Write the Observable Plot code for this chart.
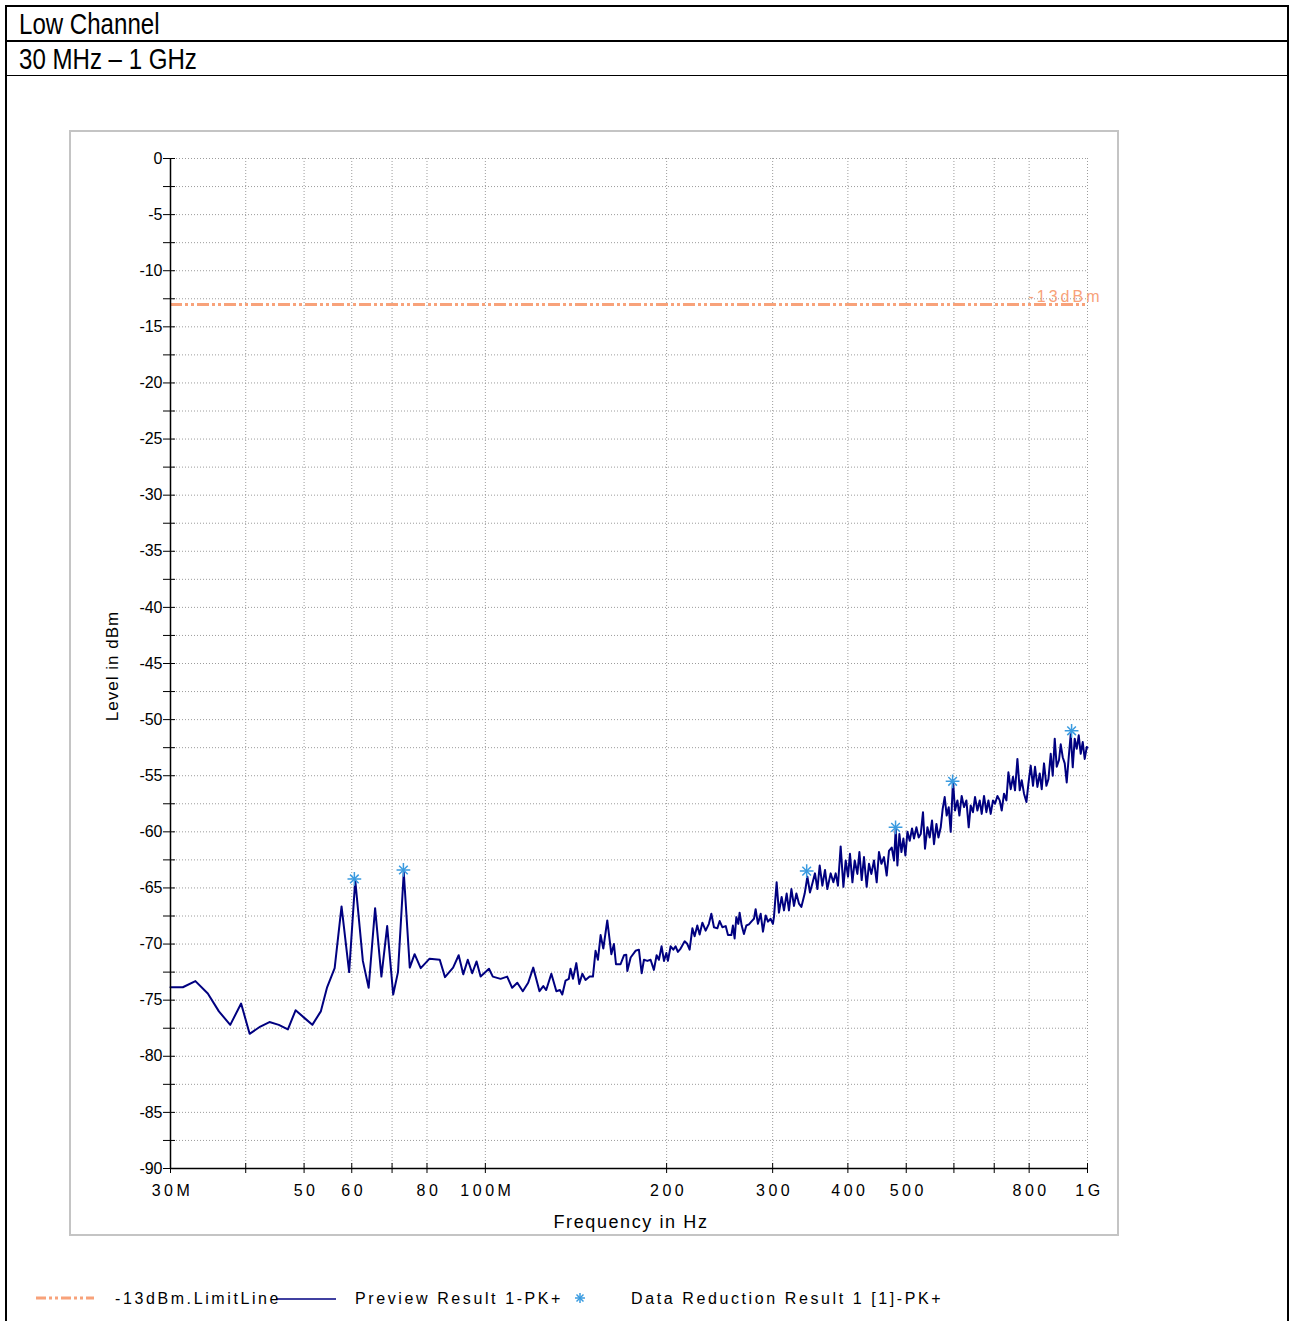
<!DOCTYPE html>
<html><head><meta charset="utf-8">
<script src="https://cdn.jsdelivr.net/npm/d3@7"></script>
<script src="https://cdn.jsdelivr.net/npm/@observablehq/plot@0.6"></script>
<style>
html,body{margin:0;padding:0;background:#fff;overflow:hidden;}
#page{position:relative;width:1291px;height:1321px;font-family:"Liberation Sans",Arial,sans-serif;color:#000;}
.abs{position:absolute;}
.frame{left:5px;top:5px;width:1284px;height:1340px;border:2px solid #000;box-sizing:border-box;}
.hline{left:5px;width:1284px;background:#000;}
.title{left:19px;font-family:"Liberation Sans",Arial,sans-serif;font-size:29px;line-height:1;white-space:nowrap;transform:scaleX(0.83);transform-origin:0 0;}
.panel{left:69px;top:130px;width:1050px;height:1106px;border:2px solid #c4c4c4;box-sizing:border-box;background:#fff;}
#chart{left:0;top:0;}
.axlab{font-size:18px;white-space:nowrap;line-height:1;}
.leg{font-size:16px;letter-spacing:2.6px;line-height:16px;top:1291px;white-space:nowrap;}
</style></head>
<body>
<div id="page">
  <div class="abs frame"></div>
  <div class="abs hline" style="top:40px;height:2px;"></div>
  <div class="abs hline" style="top:75px;height:1px;"></div>
  <div class="abs title" style="top:10px;">Low Channel</div>
  <div class="abs title" style="top:45px;">30 MHz – 1 GHz</div>
  <div class="abs panel"></div>
  <div class="abs" id="chart"></div>
  <div class="abs axlab" style="left:112px;top:666px;transform:translate(-50%,-50%) rotate(-90deg);font-size:17px;letter-spacing:1px;">Level in dBm</div>
  <div class="abs axlab" style="left:631px;top:1222px;transform:translate(-50%,-50%);letter-spacing:1.6px;">Frequency in Hz</div>
  <svg class="abs" style="left:0;top:1280px;" width="1291" height="40">
    <line x1="36" x2="94" y1="18" y2="18" stroke="#f8a27a" stroke-width="3" stroke-dasharray="10,3,3,3,3,3"/>
    <line x1="276" x2="336" y1="19" y2="19" stroke="#000080" stroke-width="1.5"/>
    <g stroke="#3a9be0" stroke-width="1.5">
      <line x1="575" x2="585" y1="18" y2="18"/><line x1="580" x2="580" y1="13" y2="23"/>
      <line x1="576.5" x2="583.5" y1="14.5" y2="21.5"/><line x1="576.5" x2="583.5" y1="21.5" y2="14.5"/>
    </g>
  </svg>
  <div class="abs leg" style="left:115px;">-13dBm.LimitLine</div>
  <div class="abs leg" style="left:355px;">Preview Result 1-PK+</div>
  <div class="abs leg" style="left:631px;">Data Reduction Result 1 [1]-PK+</div>
</div>
<script>
// Frequency in MHz, level in dBm (Preview Result 1-PK+)
const freqMHz = [30,31.45,33.0,34.6,36.1,37.7,39.3,40.6,42.3,43.8,45.4,47.0,48.4,50.1,51.6,53.3,54.6,56.2,57.7,59.4,60.8,62.6,64.0,65.6,67.2,68.7,70.3,71.6,73.2,74.9,76.3,78.1,80.8,84.0,85.7,88.4,90.3,91.9,93.5,95.1,96.7,98.2,101.4,102.9,106.0,
108.7,110.8,113.0,115.4,117.8,120.1,123.0,124.8,126.2,128.7,131.2,133.0,134.2,135.9,137.6,138.5,139.8,141.6,143.2,144.9,146.7,149.0,150.9,152.4,153.8,155.4,157.0,159.4,161.9,163.5,164.8,167.7,169.9,171.4,172.1,174.3,177.6,179.9,181.8,183.4,185.8,188.1,190.5,192.5,194.2,196.2,198.0,199.8,201.0,203.1,205.2,207.0,208.8,211.0,214.3,216.5,218.4,220.7,222.6,224.9,226.9,229.3,232.2,235.1,237.3,239.7,242.8,245.0,247.5,250.7,252.9,256.2,257.7,259.4,261.1,263.1,264.4,266.5,268.8,271.3,274.0,276.5,279.3,281.1,283.6,286.6,289.1,292.1,294.7,297.7,300.3,301.5,304.6,307.3,310.5,313.3,316.5,319.3,322.3,325.5,328.5,331.8,334.8,339.1,342.6,346.0,349.2,352.7,356.0,359.1,362.8,366.5,369.8,374.5,
378.4,381.8,385.1,389.1,393.2,396.7,400.2,403.2,407.0,410.6,414.8,418.0,421.7,425.4,429.8,433.6,437.6,442.0,446.6,450.5,454.7,459.2,464.0,468.1,473.0,477.2,480.3,483.4,487.1,490.9,494.6,498.4,502.3,506.7,511.2,515.1,519.8,524.4,528.5,533.1,537.2,542.2,547.0,551.8,556.0,561.2,565.5,570.5,574.8,579.2,583.7,588.2,592.7,597.9,602.5,608.1,612.7,618.1,623.6,629.3,634.9,639.8,645.4,650.4,656.4,662.2,667.3,673.2,679.4,684.6,690.6,696.7,702.1,708.6,714.8,720.3,726.7,733.4,739.0,745.6,752.1,757.9,764.9,771.7,777.6,784.5,791.7,797.8,804.8,811.9,818.2,825.7,833.0,839.4,846.8,854.6,861.2,868.8,875.5,882.2,889.0,896.8,902.7,909.6,916.6,923.6,930.7,937.9,945.1,952.3,959.6,967.0,974.4,981.9,989.4,997.0,1000];
const levelDbm = [-73.85,-73.85,-73.3,-74.4,-76.0,-77.2,-75.3,-78.0,-77.35,-76.95,-77.2,-77.6,-75.9,-76.6,-77.2,-76.0,-73.85,-72.15,-66.65,-72.5,-64.3,-71.5,-73.9,-66.8,-72.9,-68.4,-74.5,-72.5,-63.6,-72.1,-70.9,-72.15,-71.3,-71.4,-72.95,-72.1,-71.0,-72.7,-71.4,-72.6,-71.55,-72.9,-72.2,-72.9,-73.1,
-72.9,-73.9,-73.45,-74.2,-73.45,-72.1,-74.2,-73.75,-74.1,-72.65,-74.2,-74.1,-74.5,-73.25,-73.1,-72.2,-73.1,-71.7,-73.55,-72.65,-73.2,-72.9,-72.9,-70.6,-71.4,-69.2,-70.4,-67.9,-70.9,-70.0,-71.8,-71.8,-71.0,-70.95,-72.4,-71.2,-70.6,-70.5,-72.6,-71.4,-71.5,-71.4,-72.3,-71.0,-71.4,-70.2,-71.5,-70.8,-71.5,-70.2,-70.5,-70.2,-70.7,-70.4,-69.75,-70.0,-70.5,-68.6,-69.3,-68.35,-69.15,-68.1,-68.8,-68.2,-67.3,-68.5,-68.6,-67.95,-68.5,-68.4,-69.2,-69.2,-68.35,-69.5,-67.6,-68.2,-67.2,-68.35,-69.1,-68.35,-68.25,-68.0,-67.75,-66.9,-68.2,-67.3,-68.9,-67.45,-68.0,-67.75,-68.2,-67.6,-64.5,-67.2,-65.8,-67.0,-65.5,-67.0,-65.1,-66.6,-65.5,-66.4,-66.7,-65.5,-64.0,-65.4,-64.6,-63.7,-65.1,-63.0,-64.8,-63.4,-65.1,-63.7,
-64.5,-63.7,-64.8,-61.3,-64.9,-62.55,-64.0,-61.95,-64.5,-62.55,-63.75,-61.8,-64.3,-62.25,-64.9,-62.85,-63.75,-62.55,-64.5,-61.8,-62.85,-62.25,-63.9,-61.7,-61.4,-62.55,-59.7,-63.0,-60.2,-61.8,-60.6,-62.1,-60.0,-60.8,-59.7,-60.6,-59.6,-60.5,-60.2,-58.25,-61.5,-59.6,-60.5,-59.0,-61.1,-59.3,-60.5,-59.6,-57.95,-56.9,-58.55,-57.8,-60.0,-55.4,-58.1,-57.2,-58.55,-56.8,-57.8,-57.2,-59.6,-57.65,-58.25,-56.9,-58.1,-57.2,-58.4,-56.8,-58.25,-57.2,-58.4,-57.2,-57.5,-56.8,-57.2,-58.1,-56.6,-57.2,-54.7,-56.2,-55.1,-56.3,-53.5,-56.3,-55.4,-56.6,-57.35,-55.7,-54.1,-55.9,-54.2,-56.0,-54.8,-56.2,-53.9,-55.9,-55.3,-53.05,-55.0,-51.7,-54.2,-53.6,-52.2,-53.35,-53.9,-55.6,-53.35,-51.3,-54.25,-51.7,-52.6,-51.4,-53.05,-52.0,-53.5,-52.45,-52.5];

// Data Reduction Result 1 [1]-PK+ (peaks)
const peakFreqMHz = [60.6, 73.1, 341.7, 480.0, 597.0, 941.0];
const peakLevelDbm = [-64.2, -63.4, -63.5, -59.6, -55.5, -51.0];

// Limit line
const limitDbm = -13;
const limitLabel = "-13dBm";

// Axes
const xTicks = [30,40,50,60,70,80,100,200,300,400,500,600,700,800,1000];
const xTickLabels = ["30M","","50","60","","80","100M","200","300","400","500","","","800","1G"];
const yTicks = [0,-2.5,-5,-7.5,-10,-12.5,-15,-17.5,-20,-22.5,-25,-27.5,-30,-32.5,-35,-37.5,-40,-42.5,-45,-47.5,-50,-52.5,-55,-57.5,-60,-62.5,-65,-67.5,-70,-72.5,-75,-77.5,-80,-82.5,-85,-87.5,-90];
const yTickLabels = ["0","","-5","","-10","","-15","","-20","","-25","","-30","","-35","","-40","","-45","","-50","","-55","","-60","","-65","","-70","","-75","","-80","","-85","","-90"];

const trace = freqMHz.map((f, i) => ({f, level: levelDbm[i]}));
const peaks = peakFreqMHz.map((f, i) => ({f, level: peakLevelDbm[i]}));
const xLabelRows = xTicks.map((t, i) => ({t, label: xTickLabels[i]})).filter(d => d.label !== "");
const yLab = new Map(yTicks.map((t, i) => [t, yTickLabels[i]]));

const grid = {stroke: "#9c9c9c", strokeOpacity: 1, strokeWidth: 1, strokeDasharray: "1,2"};

const chart = Plot.plot({
  width: 1291,
  height: 1240,
  marginLeft: 170,
  marginRight: 204,
  marginTop: 158,
  marginBottom: 72,
  style: {fontFamily: "Liberation Sans, Arial, sans-serif", fontSize: "16px", background: "transparent", color: "#000", overflow: "visible"},
  x: {type: "log", domain: [30, 1000], axis: null},
  y: {domain: [-90, 0], axis: null},
  marks: [
    Plot.gridY(yTicks, grid),
    Plot.gridX(xTicks, grid),
    Plot.ruleY([limitDbm], {stroke: "#f8a27a", strokeWidth: 3, strokeDasharray: "12,3,3,3,3,3"}),
    Plot.text([limitLabel], {x: () => 1000, y: () => limitDbm, text: d => d, textAnchor: "end", dx: 15, dy: -8, fill: "#f8a27a", fontSize: 16}),
    Plot.line(trace, {x: "f", y: "level", stroke: "#000080", strokeWidth: 2}),
    Plot.dot(peaks, {x: "f", y: "level", symbol: "plus", r: 4.5, stroke: "#3a9be0", strokeWidth: 1.5}),
    Plot.dot(peaks, {x: "f", y: "level", symbol: "times", r: 4, stroke: "#3a9be0", strokeWidth: 1.5}),
    Plot.ruleY([-90], {stroke: "#000", strokeWidth: 1.5}),
    Plot.ruleX([30], {stroke: "#000", strokeWidth: 1.5}),
    Plot.axisX(xTicks, {tickSize: 10, dy: -5, tickFormat: null, text: null, stroke: "#000", label: null}),
    Plot.text(xLabelRows, {x: "t", y: () => -90, text: "label", dy: 22, dx: 2, fill: "#000", fontSize: 16}),
    Plot.axisY(yTicks, {tickSize: 12, dx: 5, tickPadding: 1, tickFormat: d => yLab.get(d), stroke: "#000", fill: "#000", label: null})
  ]
});
document.getElementById("chart").appendChild(chart);

// letter spacing like the original instrument font
const xLabelSet = new Set(xTickLabels.filter(s => s !== ""));
d3.select(chart).selectAll("text").each(function () {
  const t = this.textContent;
  if (t === limitLabel) this.style.letterSpacing = "3px";
  else if (xLabelSet.has(t) && this.getAttribute("text-anchor") !== "end" && !this.closest('g[aria-label="y-axis tick label"]')) this.style.letterSpacing = "3.5px";
});
</script>
</body></html>
